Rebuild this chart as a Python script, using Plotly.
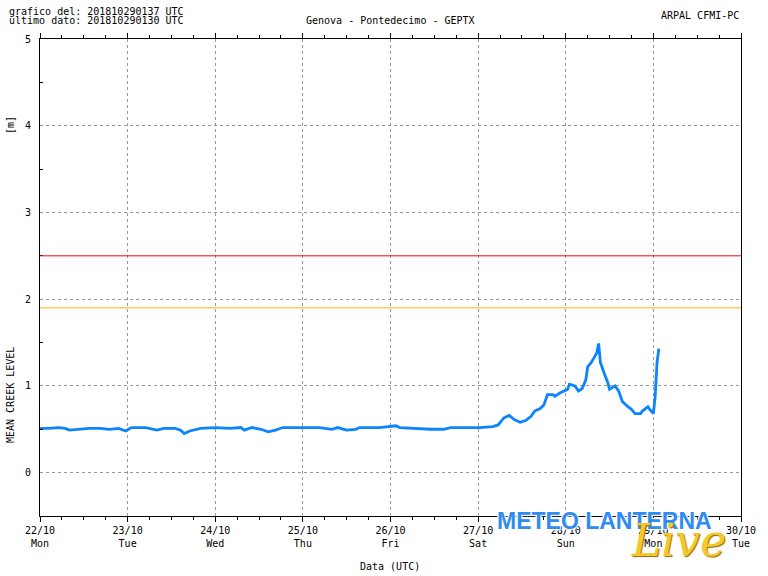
import plotly.graph_objects as go

# ---- data ----
times = [
    "2018-10-22 00:00", "2018-10-22 02:30", "2018-10-22 05:00", "2018-10-22 07:00",
    "2018-10-22 08:00", "2018-10-22 11:00", "2018-10-22 13:30", "2018-10-22 16:30",
    "2018-10-22 19:00", "2018-10-22 21:30", "2018-10-22 23:30", "2018-10-23 01:00",
    "2018-10-23 05:00", "2018-10-23 08:00", "2018-10-23 10:00", "2018-10-23 13:00",
    "2018-10-23 14:30", "2018-10-23 15:30", "2018-10-23 17:00", "2018-10-23 20:00",
    "2018-10-24 00:00", "2018-10-24 04:00", "2018-10-24 07:00", "2018-10-24 08:00",
    "2018-10-24 10:00", "2018-10-24 12:30", "2018-10-24 14:30", "2018-10-24 16:30",
    "2018-10-24 18:30", "2018-10-24 23:00", "2018-10-25 04:30", "2018-10-25 08:00",
    "2018-10-25 09:30", "2018-10-25 12:00", "2018-10-25 14:30", "2018-10-25 15:30",
    "2018-10-25 21:00", "2018-10-26 01:30", "2018-10-26 02:30", "2018-10-26 11:00",
    "2018-10-26 14:30", "2018-10-26 16:30", "2018-10-27 00:30", "2018-10-27 04:00",
    "2018-10-27 05:30", "2018-10-27 07:00", "2018-10-27 08:30", "2018-10-27 10:00",
    "2018-10-27 11:30", "2018-10-27 13:00", "2018-10-27 14:30", "2018-10-27 15:30",
    "2018-10-27 17:00", "2018-10-27 18:00", "2018-10-27 19:00", "2018-10-27 20:30",
    "2018-10-27 21:00", "2018-10-27 22:30", "2018-10-28 00:30", "2018-10-28 01:00",
    "2018-10-28 02:30", "2018-10-28 03:30", "2018-10-28 04:30", "2018-10-28 05:30",
    "2018-10-28 06:00", "2018-10-28 07:00", "2018-10-28 08:30", "2018-10-28 09:00",
    "2018-10-28 09:30", "2018-10-28 10:30", "2018-10-28 11:30", "2018-10-28 12:00",
    "2018-10-28 13:30", "2018-10-28 14:30", "2018-10-28 15:30", "2018-10-28 17:00",
    "2018-10-28 18:00", "2018-10-28 19:00", "2018-10-28 20:30", "2018-10-28 21:00",
    "2018-10-28 22:30", "2018-10-28 23:00", "2018-10-29 00:00", "2018-10-29 00:30",
    "2018-10-29 01:00", "2018-10-29 01:30",
]
level = [
    0.51, 0.51, 0.52, 0.51,
    0.49, 0.50, 0.51, 0.51,
    0.50, 0.51, 0.48, 0.52,
    0.52, 0.49, 0.51, 0.51,
    0.49, 0.45, 0.48, 0.51,
    0.52, 0.51, 0.52, 0.49,
    0.52, 0.50, 0.47, 0.49,
    0.52, 0.52, 0.52, 0.50,
    0.52, 0.49, 0.50, 0.52,
    0.52, 0.54, 0.52, 0.50,
    0.50, 0.52, 0.52, 0.53,
    0.55, 0.63, 0.66, 0.61,
    0.58, 0.60, 0.65, 0.71,
    0.74, 0.78, 0.90, 0.90,
    0.88, 0.92, 0.96, 1.02,
    1.00, 0.94, 0.97, 1.07,
    1.22, 1.27, 1.38, 1.49,
    1.27, 1.15, 1.04, 0.96,
    1.00, 0.94, 0.82, 0.76,
    0.73, 0.68, 0.68, 0.71,
    0.76, 0.73, 0.68, 0.88,
    1.27, 1.43,
]
alarm_level = 2.5
warning_level = 1.9

day_ticks = ["2018-10-22", "2018-10-23", "2018-10-24", "2018-10-25",
             "2018-10-26", "2018-10-27", "2018-10-28", "2018-10-29", "2018-10-30"]
day_labels = ["22/10<br>Mon", "23/10<br>Tue", "24/10<br>Wed", "25/10<br>Thu",
              "26/10<br>Fri", "27/10<br>Sat", "28/10<br>Sun", "29/10<br>Mon", "30/10<br>Tue"]
y_ticks = [0, 1, 2, 3, 4, 5]

FONT = "DejaVu Sans Mono"

fig = go.Figure()
fig.add_trace(go.Scatter(x=times, y=level, mode="lines",
                         line=dict(color="#0a84ff", width=2.8),
                         showlegend=False, hoverinfo="skip"))

fig.add_hline(y=alarm_level, line=dict(color="#ff0000", width=1))
fig.add_hline(y=warning_level, line=dict(color="#ffb400", width=1))

L, R, T, B = 40, 27, 39, 60
W, H = 768, 576
pw, ph = W - L - R, H - T - B

def px(x):
    return (x - L) / pw

def py(y):
    return (H - B - y) / ph

fig.update_layout(
    width=W, height=H,
    margin=dict(l=L, r=R, t=T, b=B, pad=0),
    paper_bgcolor="white", plot_bgcolor="white",
    font=dict(family=FONT, size=10, color="black"),
    xaxis=dict(
        type="date", range=[day_ticks[0], day_ticks[-1]],
        tickmode="array", tickvals=day_ticks, ticktext=day_labels,
        ticks="outside", ticklen=5, tickcolor="black", tickwidth=1,
        showline=True, linecolor="black", linewidth=1, mirror="ticks",
        showgrid=True, gridcolor="#999999", griddash="dot", gridwidth=1,
        minor=dict(ticks="outside", ticklen=3, dtick=6 * 3600 * 1000,
                   tickcolor="black", showgrid=False),
        tickfont=dict(family=FONT, size=10),
        zeroline=False, fixedrange=True,
    ),
    yaxis=dict(
        range=[-0.5, 5], tickmode="array", tickvals=y_ticks,
        ticks="", showline=True, linecolor="black", linewidth=1, mirror=True,
        showgrid=True, gridcolor="#999999", griddash="dot", gridwidth=1,
        minor=dict(ticks="inside", ticklen=3, tickvals=[-0.5, 0.5, 1.5, 2.5, 3.5, 4.5],
                   tickcolor="black", showgrid=False),
        tickfont=dict(family=FONT, size=10),
        ticklabelstandoff=6,
        zeroline=False, fixedrange=True,
    ),
)

ann = [
    dict(text="grafico del: 201810290137 UTC", x=px(7), y=py(11), xanchor="left", yanchor="middle"),
    dict(text="ultimo dato: 201810290130 UTC", x=px(7), y=py(20), xanchor="left", yanchor="middle"),
    dict(text="Genova - Pontedecimo - GEPTX", x=px(390), y=py(20), xanchor="center", yanchor="middle"),
    dict(text="ARPAL CFMI-PC", x=px(741), y=py(15), xanchor="right", yanchor="middle"),
    dict(text="[m]", x=px(10), y=py(125), xanchor="center", yanchor="middle", textangle=-90),
    dict(text="MEAN CREEK LEVEL", x=px(10), y=py(395), xanchor="center", yanchor="middle", textangle=-90),
    dict(text="Data (UTC)", x=px(390), y=py(566), xanchor="center", yanchor="middle"),
]
for a in ann:
    fig.add_annotation(xref="paper", yref="paper", showarrow=False,
                       font=dict(family=FONT, size=10, color="black"), **a)

# watermark logo (text approximation)
fig.add_annotation(xref="paper", yref="paper", showarrow=False,
                   text="<b>METEO LANTERNA</b>", x=px(604), y=py(521),
                   xanchor="center", yanchor="middle",
                   font=dict(family="Liberation Sans", size=23, color="#2f8cf0",
                             shadow="1px 1px 1px #ffffff, -1px -1px 1px #ffffff, 1px -1px 1px #ffffff, -1px 1px 1px #ffffff"))
fig.add_annotation(xref="paper", yref="paper", showarrow=False,
                   text="<i>Live</i>", x=px(678), y=py(540),
                   xanchor="center", yanchor="middle",
                   font=dict(family="DejaVu Serif", size=44, color="#f5c72a",
                             shadow="1px 1px 1px #8a6a00"))

fig.write_html("out.html", config={"displayModeBar": False},
               post_script="document.body.style.margin='0px';document.body.style.overflow='hidden';")
